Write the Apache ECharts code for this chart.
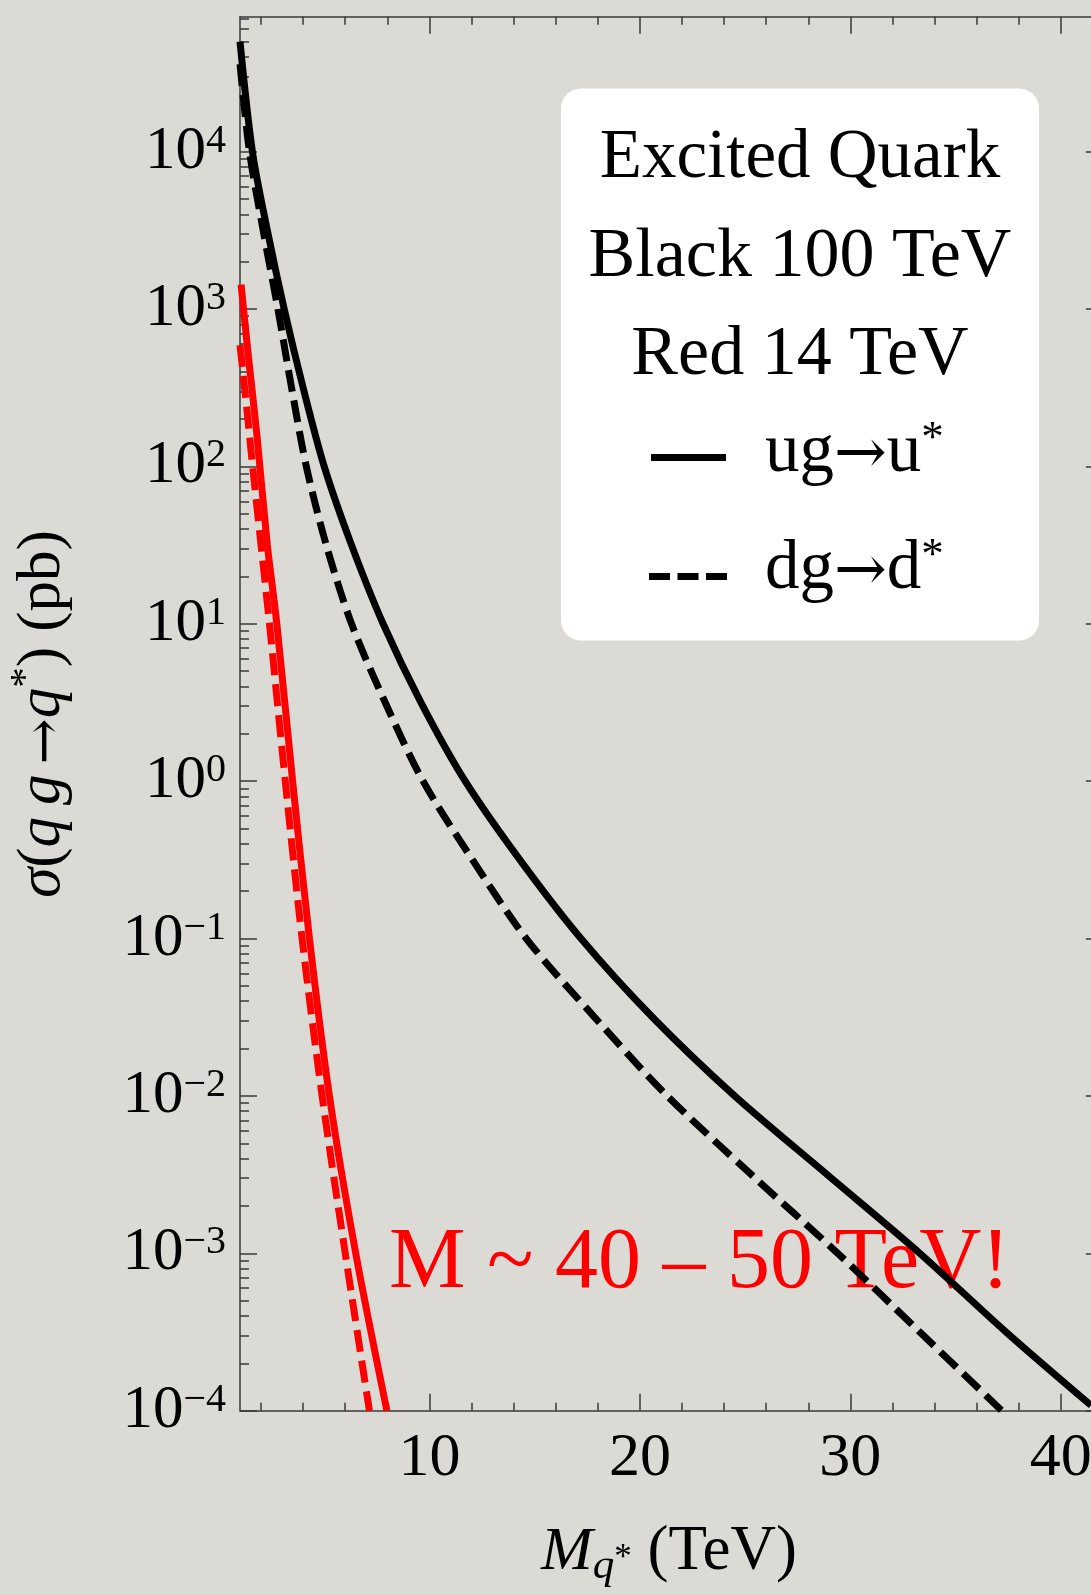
<!DOCTYPE html>
<html>
<head>
<meta charset="utf-8">
<script src="https://cdn.jsdelivr.net/npm/echarts@6/dist/echarts.min.js"></script>
<style>
  html, body { margin: 0; padding: 0; background: #dbdad5; }
  #chart { width: 1091px; height: 1595px; }
</style>
</head>
<body>
<div id="chart"></div>
<script>
// Excited-quark production cross sections σ(qg → q*) in pb versus the q* mass in TeV.
// Black curves: 100 TeV collider, red curves: 14 TeV. Solid u*, dashed d*.
const massU100  = [1.0, 1.59, 2.3, 3.1, 4.0, 5.0, 6.3, 7.8, 9.6, 11.7, 14.3, 17.2, 20.6, 24.5, 28.9, 33.3, 37.4, 41.44];
const sigmaU100 = [5.0e4, 1e4, 3.16e3, 1e3, 3.16e2, 1e2, 3.16e1, 1e1, 3.16, 1, 3.16e-1, 1e-1, 3.16e-2, 1e-2, 3.16e-3, 1e-3, 3.16e-4, 1.08e-4];
const massD100  = [1.0, 1.45, 2.1, 2.8, 3.45, 4.15, 5.1, 6.3, 7.9, 9.7, 12.05, 14.6, 17.85, 21.3, 25.3, 29.4, 33.3, 37.2];
const sigmaD100 = [3.6e4, 1e4, 3.16e3, 1e3, 3.16e2, 1e2, 3.16e1, 1e1, 3.16, 1, 3.16e-1, 1e-1, 3.16e-2, 1e-2, 3.16e-3, 1e-3, 3.16e-4, 1e-4];
const massU14   = [1.05, 1.4, 1.8, 2.3, 2.75, 3.5, 4.3, 5.25, 6.5, 7.98];
const sigmaU14  = [1.43e3, 5.0e2, 1.6e2, 3.16e1, 1e1, 1, 1e-1, 1e-2, 1e-3, 1e-4];
const massD14   = [1.0, 1.3, 1.6, 2.0, 2.4, 3.15, 3.95, 4.9, 6.0, 7.15];
const sigmaD14  = [5.9e2, 2.5e2, 1e2, 3.16e1, 1e1, 1, 1e-1, 1e-2, 1e-3, 1e-4];

// Axis ticks
const xMajorTicks = [10, 20, 30, 40];
const yExponents  = [-4, -3, -2, -1, 0, 1, 2, 3, 4];

const X_MIN = 1, X_MAX = 42;
const Y_MIN = 1e-4, Y_MAX = 7.2e4;

const xMinorTicks = [];
for (let v = 2; v < X_MAX; v += 2) if (v % 10 !== 0) xMinorTicks.push(v);
const yMajorTicks = yExponents.map(e => Math.pow(10, e));
const yMinorTicks = [];
yExponents.forEach(e => {
  for (let m = 2; m <= 9; m++) {
    const v = m * Math.pow(10, e);
    if (v < Y_MAX) yMinorTicks.push(v);
  }
});

const FONT = '"Liberation Serif", "Times New Roman", serif';
const ARROW_FONT = '"DejaVu Serif", serif';
const AXIS_COLOR = '#3a3a3a';
const GRID = { left: 240, top: 16.7, width: 862.9, height: 1394 };

const pairs = (xs, ys) => xs.map((x, i) => [x, ys[i]]);

// Lays out a row of text runs on a common baseline (group origin = baseline).
const measureCtx = document.createElement('canvas').getContext('2d');
function textRuns(parts, opts) {
  const z = opts.z || 10;
  let total = 0;
  parts.forEach(p => {
    p.family = p.family || FONT;
    measureCtx.font = (p.italic ? 'italic ' : '') + p.size + 'px ' + p.family;
    p.w = measureCtx.measureText(p.text).width + (p.gap || 0);
    total += p.w;
  });
  let cx = opts.align === 'center' ? -total / 2 : 0;
  const children = parts.map(p => {
    const el = {
      type: 'text', z: z,
      x: cx + (p.dx || 0),
      y: (p.dy || 0) - 0.34 * p.size,
      style: {
        text: p.text,
        fill: opts.color || '#000',
        fontSize: p.size,
        fontFamily: p.family,
        fontStyle: p.italic ? 'italic' : 'normal',
        align: 'left', verticalAlign: 'middle',
        textAlign: 'left', textVerticalAlign: 'middle'
      }
    };
    cx += p.w;
    return el;
  });
  return { type: 'group', x: opts.x, y: opts.y, rotation: opts.rotation || 0, z: z, children };
}

function tickStyle(values, len) {
  return { show: true, inside: true, length: len, customValues: values,
           lineStyle: { color: AXIS_COLOR, width: 1.5 } };
}

const yLabelFormatter = v => {
  const e = Math.round(Math.log10(v));
  return '{b|10}{s|' + (e < 0 ? '\u2212' + (-e) : e) + '}';
};

const chart = echarts.init(document.getElementById('chart'), null, { renderer: 'canvas' });

const xAxisBase = { type: 'value', min: X_MIN, max: X_MAX, splitLine: { show: false } };
const yAxisBase = { type: 'log', logBase: 10, min: Y_MIN, max: Y_MAX, splitLine: { show: false } };
const frameLine = { show: true, onZero: false, lineStyle: { color: AXIS_COLOR, width: 1.5 } };

const lineSeries = (name, xs, ys, color, dashed) => ({
  name, type: 'line', xAxisIndex: 0, yAxisIndex: 0,
  data: pairs(xs, ys), showSymbol: false, smooth: 0.3, z: 4,
  lineStyle: { color, width: 7, cap: 'butt', type: dashed ? [22, 9] : 'solid' }
});

const option = {
  backgroundColor: '#dbdad5',
  animation: false,
  grid: [
    Object.assign({ outerBoundsMode: 'none', containLabel: false }, GRID),
    Object.assign({ outerBoundsMode: 'none', containLabel: false }, GRID)
  ],
  xAxis: [
    Object.assign({}, xAxisBase, { // bottom frame with major ticks and labels
      gridIndex: 0, position: 'bottom', axisLine: frameLine,
      axisTick: tickStyle(xMajorTicks, 17),
      axisLabel: { show: true, customValues: xMajorTicks, margin: 17,
                   color: '#000', fontFamily: FONT, fontSize: 62, lineHeight: 62 }
    }),
    Object.assign({}, xAxisBase, { // top frame
      gridIndex: 0, position: 'top', axisLine: frameLine,
      axisTick: tickStyle(xMajorTicks, 17), axisLabel: { show: false }
    }),
    Object.assign({}, xAxisBase, { // bottom minor ticks
      gridIndex: 1, position: 'bottom', axisLine: { show: false },
      axisTick: tickStyle(xMinorTicks, 8), axisLabel: { show: false }
    }),
    Object.assign({}, xAxisBase, { // top minor ticks
      gridIndex: 1, position: 'top', axisLine: { show: false },
      axisTick: tickStyle(xMinorTicks, 8), axisLabel: { show: false }
    })
  ],
  yAxis: [
    Object.assign({}, yAxisBase, { // left frame with decade labels
      gridIndex: 0, position: 'left', axisLine: frameLine,
      axisTick: tickStyle(yMajorTicks, 17),
      axisLabel: {
        show: true, customValues: yMajorTicks, margin: 14, formatter: yLabelFormatter,
        rich: {
          b: { fontFamily: FONT, fontSize: 61, lineHeight: 61, color: '#000' },
          s: { fontFamily: FONT, fontSize: 40, lineHeight: 40, color: '#000', verticalAlign: 'top' }
        }
      }
    }),
    Object.assign({}, yAxisBase, { // right frame
      gridIndex: 0, position: 'right', axisLine: frameLine,
      axisTick: tickStyle(yMajorTicks, 17), axisLabel: { show: false }
    }),
    Object.assign({}, yAxisBase, { // left minor ticks
      gridIndex: 1, position: 'left', axisLine: { show: false },
      axisTick: tickStyle(yMinorTicks, 9), axisLabel: { show: false }
    }),
    Object.assign({}, yAxisBase, { // right minor ticks
      gridIndex: 1, position: 'right', axisLine: { show: false },
      axisTick: tickStyle(yMinorTicks, 9), axisLabel: { show: false }
    })
  ],
  series: [
    lineSeries('ug→u* 100 TeV', massU100, sigmaU100, '#000', false),
    lineSeries('dg→d* 100 TeV', massD100, sigmaD100, '#000', true),
    lineSeries('ug→u* 14 TeV', massU14, sigmaU14, '#ff0000', false),
    lineSeries('dg→d* 14 TeV', massD14, sigmaD14, '#ff0000', true)
  ],
  graphic: { elements: [
    // y-axis title, reading bottom to top
    textRuns([
      { text: 'σ', size: 61, italic: true },
      { text: '(', size: 61 },
      { text: 'q', size: 61, italic: true, gap: 12 },
      { text: 'g', size: 61, italic: true, gap: 10 },
      { text: '→', size: 55, family: ARROW_FONT, dy: 2 },
      { text: 'q', size: 61, italic: true },
      { text: '*', size: 41, dy: -24 },
      { text: ') (pb)', size: 61 }
    ], { x: 64, y: 714, rotation: Math.PI / 2, align: 'center' }),
    // x-axis title
    textRuns([
      { text: 'M', size: 62, italic: true },
      { text: 'q', size: 43, italic: true, dy: 7 },
      { text: '*', size: 35, dy: -3 },
      { text: ' (TeV)', size: 63 }
    ], { x: 541, y: 1574 }),
    // annotation, kept beneath the curves
    textRuns([
      { text: 'M ~ 40 \u2013 50 TeV!', size: 86 }
    ], { x: 389, y: 1294, color: '#ff0000', z: 1 }),
    // legend panel
    {
      type: 'rect', z: 8,
      shape: { x: 561, y: 88.5, width: 478, height: 552, r: 20 },
      style: { fill: '#ffffff' }
    },
    textRuns([{ text: 'Excited Quark', size: 69 }], { x: 800, y: 182, align: 'center', z: 12 }),
    textRuns([{ text: 'Black 100 TeV', size: 70 }], { x: 800, y: 281, align: 'center', z: 12 }),
    textRuns([{ text: 'Red 14 TeV', size: 70 }], { x: 800, y: 379, align: 'center', z: 12 }),
    {
      type: 'line', z: 12,
      shape: { x1: 651, y1: 457.5, x2: 726, y2: 457.5 },
      style: { stroke: '#000', lineWidth: 7 }
    },
    textRuns([
      { text: 'ug', size: 69 },
      { text: '→', size: 63, family: ARROW_FONT, dy: 2 },
      { text: 'u', size: 69 },
      { text: '*', size: 45, dy: -22 }
    ], { x: 765, y: 476, z: 12 }),
    {
      type: 'line', z: 12,
      shape: { x1: 649, y1: 576.5, x2: 727, y2: 576.5 },
      style: { stroke: '#000', lineWidth: 7, lineDash: [21, 7.5] }
    },
    textRuns([
      { text: 'dg', size: 69 },
      { text: '→', size: 63, family: ARROW_FONT, dy: 2 },
      { text: 'd', size: 69 },
      { text: '*', size: 45, dy: -22 }
    ], { x: 765, y: 593, z: 12 })
  ] }
};

chart.setOption(option);
</script>
</body>
</html>
